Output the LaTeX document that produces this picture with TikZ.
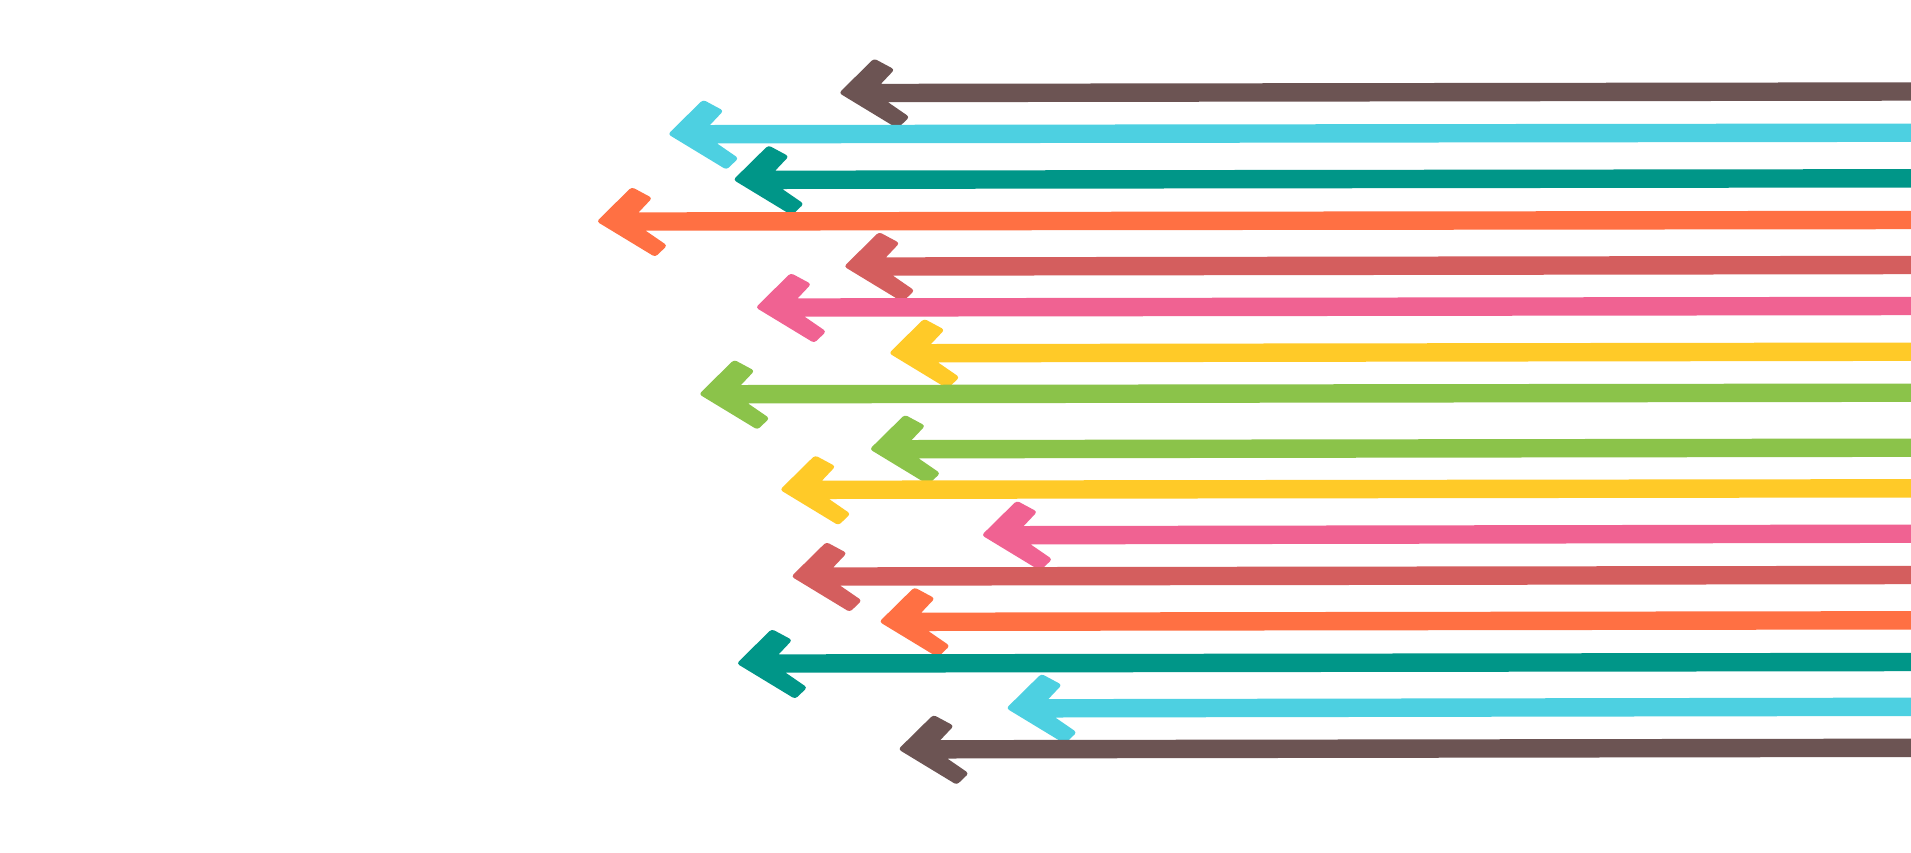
\documentclass[tikz,border=0pt]{standalone}
\definecolor{abrown}{HTML}{6C5453}
\definecolor{acyan}{HTML}{4DD0E1}
\definecolor{ateal}{HTML}{009688}
\definecolor{aorange}{HTML}{FF7043}
\definecolor{ared}{HTML}{D45E5E}
\definecolor{apink}{HTML}{F06292}
\definecolor{ayellow}{HTML}{FFCA28}
\definecolor{agreen}{HTML}{8BC34A}
\tikzset{arrowfill/.style={fill=#1, draw=none}}
% #1 colour, #2 tip x, #3 shaft centre y (pixel units, y downwards)
\newcommand\arrowrow[3]{%
  \fill[arrowfill=#1, rounded corners=1.5pt]
    (#2-1,#3) -- (#2+34,#3-34.5) -- (#2+54.5,#3-23.5)
    [sharp corners] -- (#2+41,#3-9.2) -- (1912,#3-10.7) -- (1912,#3+7.7) -- (#2+48,#3+9.2)
    [rounded corners=1.5pt] -- (#2+69.5,#3+24) -- (#2+57.5,#3+35.5) -- cycle;
}
\begin{document}
\begin{tikzpicture}[x=0.5pt,y=-0.5pt]
\useasboundingbox (0,0) rectangle (1911,852);
\fill[white] (0,0) rectangle (1911,852);
\arrowrow{abrown}{840}{93}
\arrowrow{acyan}{669}{134.2}
\arrowrow{ateal}{734.3}{179.8}
\arrowrow{aorange}{597.7}{221.5}
\arrowrow{ared}{845}{266.5}
\arrowrow{apink}{756.7}{307.5}
\arrowrow{ayellow}{890}{353.2}
\arrowrow{agreen}{700}{394.2}
\arrowrow{agreen}{870.7}{449.2}
\arrowrow{ayellow}{781}{489.8}
\arrowrow{apink}{982.7}{535.2}
\arrowrow{ared}{792.3}{576.5}
\arrowrow{aorange}{880.3}{621.8}
\arrowrow{ateal}{737.7}{663.5}
\arrowrow{acyan}{1007.3}{708.3}
\arrowrow{abrown}{899.3}{749.3}
\end{tikzpicture}
\end{document}
